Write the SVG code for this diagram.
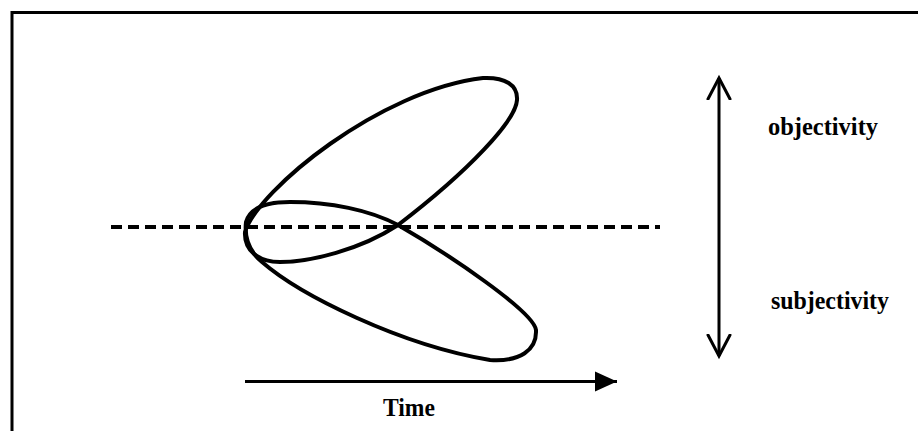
<svg xmlns="http://www.w3.org/2000/svg" width="918" height="431" viewBox="0 0 918 431">
<style>
.frame{fill:none;stroke:#000;stroke-width:3}
.loop{fill:none;stroke:#000;stroke-width:4;stroke-linejoin:round}
.dash{stroke:#000;stroke-width:4;stroke-dasharray:11 6}
.line{stroke:#000;stroke-width:3;fill:none}
.lbl{font-family:"Liberation Serif","Times New Roman",serif;font-size:25px;font-weight:bold;fill:#000}
</style>
<defs>
<marker id="solidHead" markerUnits="userSpaceOnUse" markerWidth="24" markerHeight="22" refX="22" refY="11" orient="auto">
<path d="M0,1 L22,11 L0,21 Z" fill="#000"/>
</marker>
<marker id="openHead" markerUnits="userSpaceOnUse" markerWidth="26" markerHeight="30" refX="22" refY="13" orient="auto-start-reverse">
<path d="M1,2 L22,13 L1,24" fill="none" stroke="#000" stroke-width="3" stroke-linecap="round"/>
</marker>
</defs>
<rect width="918" height="431" fill="#fff"/>
<rect class="frame" x="12" y="12.5" width="920" height="440"/>
<g id="baseline">
<line class="dash" x1="111" y1="227" x2="660" y2="227"/>
</g>
<g id="loop">
<path class="loop" d="M245,232 C258,190 380,90 483,78 C505,77 518,85 517,100 C516,120 470,170 398,225 C360,250 310,262 280,262 C258,262 244,250 245,232 Z"/>
<path class="loop" d="M246,222 C244,240 250,252 262,262 C300,295 400,345 490,360 C520,362 537,350 536,330 C534,312 450,255 398,225 C370,210 330,202 290,202 C265,202 250,208 246,222 Z"/>
</g>
<g id="connectors">
<line class="line" x1="245" y1="381.5" x2="617" y2="381.5" marker-end="url(#solidHead)"/>
<line class="line" x1="719" y1="78" x2="719" y2="356" marker-start="url(#openHead)" marker-end="url(#openHead)"/>
</g>
<g id="label-time"><text class="lbl" x="383" y="416" textLength="52" lengthAdjust="spacingAndGlyphs">Time</text></g>
<g id="label-objectivity"><text class="lbl" x="768" y="135" textLength="110" lengthAdjust="spacingAndGlyphs">objectivity</text></g>
<g id="label-subjectivity"><text class="lbl" x="771" y="309" textLength="118" lengthAdjust="spacingAndGlyphs">subjectivity</text></g>
</svg>
